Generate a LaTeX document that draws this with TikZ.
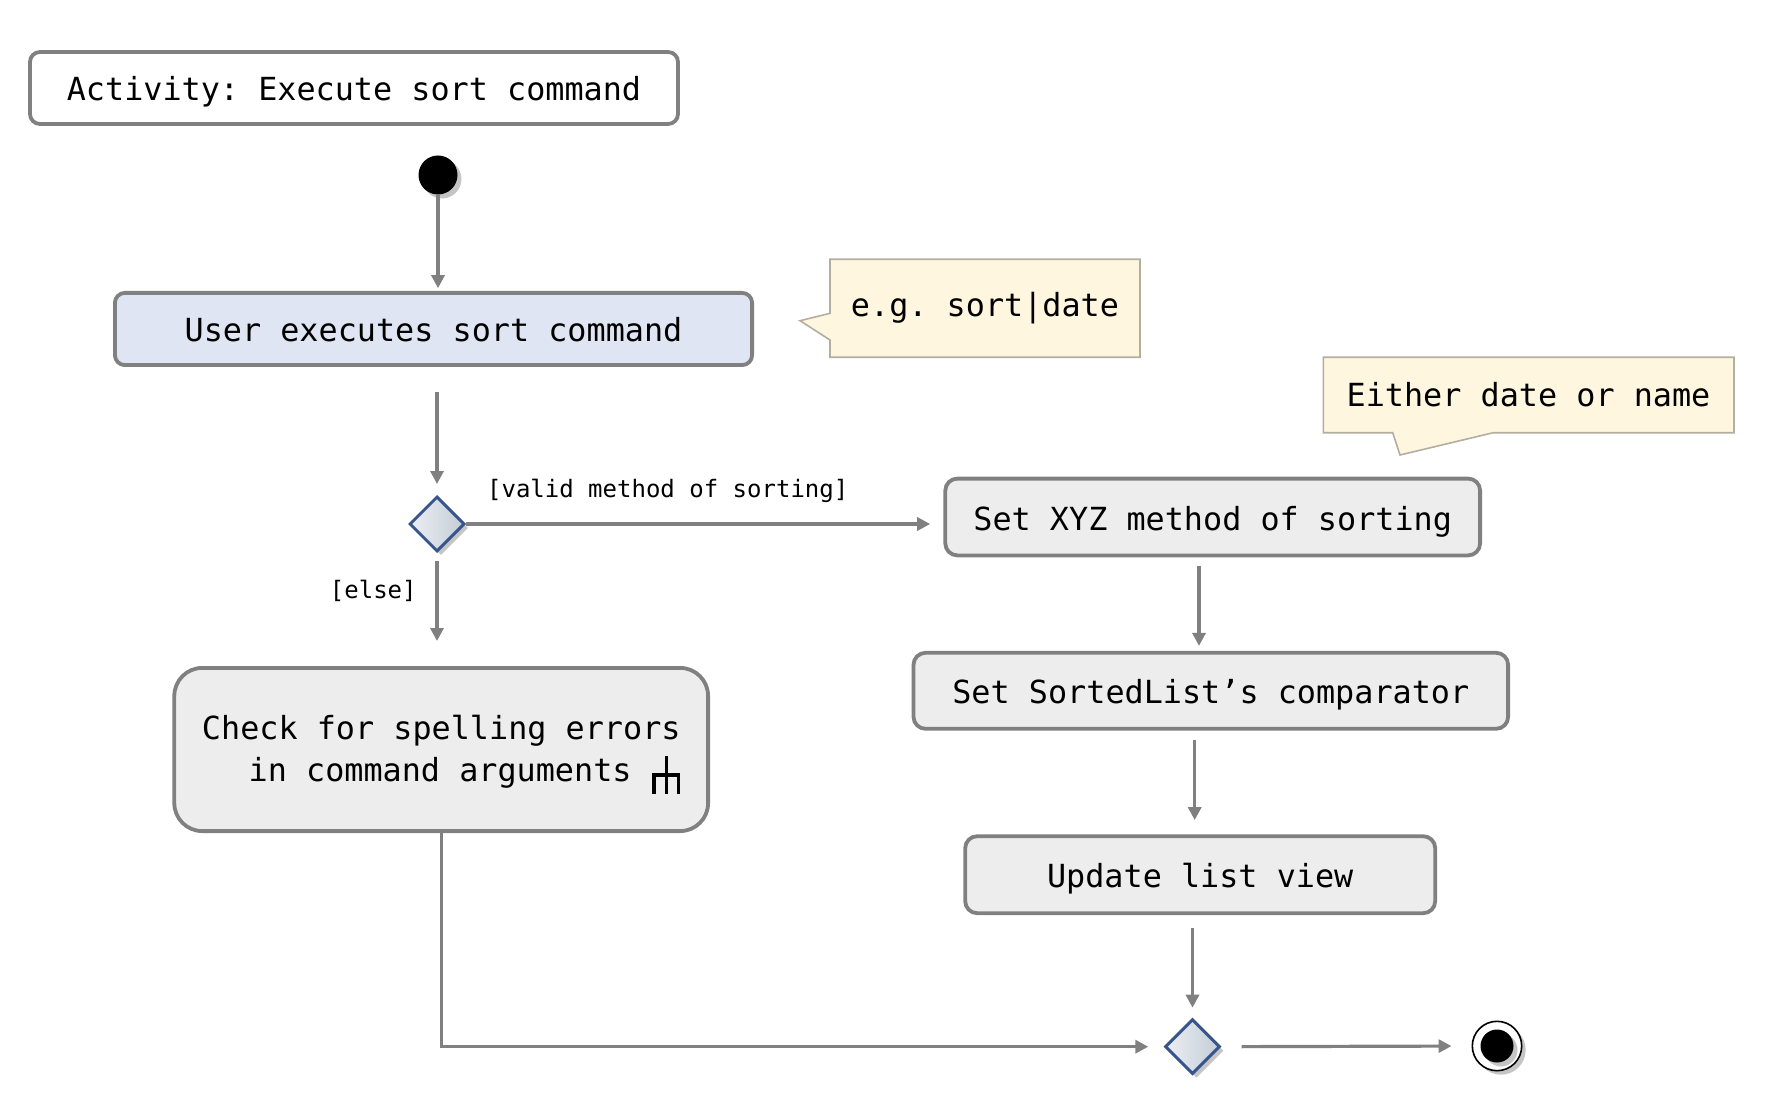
\documentclass[tikz,border=0pt]{standalone}
\usepackage{fontspec}
\setmainfont{DejaVu Sans Mono}
\usetikzlibrary{shapes.geometric,arrows.meta,shadows,calc}
\frenchspacing
\definecolor{boxborder}{RGB}{128,128,128}
\definecolor{linecol}{RGB}{128,128,128}
\definecolor{userfill}{RGB}{223,229,242}
\definecolor{actfill}{RGB}{237,237,237}
\definecolor{notefill}{RGB}{254,246,222}
\definecolor{noteborder}{RGB}{178,174,160}
\definecolor{diaborder}{RGB}{55,85,140}
\definecolor{dialight}{RGB}{236,239,243}
\definecolor{diadark}{RGB}{196,204,214}
\begin{document}
\frenchspacing
\begin{tikzpicture}[x=0.5pt,y=-0.5pt,
  txt/.style={font=\fontsize{15.9pt}{20.8pt}\selectfont},
  actbox/.style={draw=boxborder, line width=1.9pt, rounded corners=6pt, fill=actfill,
    inner sep=0pt, text height=15.5pt, text depth=2.5pt, txt},
  notebox/.style={draw=noteborder, line width=0.8pt, fill=notefill},
  notetext/.style={txt, inner sep=0pt},
  conn/.style={draw=linecol, line width=1.6pt, -{Triangle[length=6.5pt,width=6.5pt]}},
  decision/.style={diamond, draw=diaborder, line width=1.5pt, inner sep=0pt,
    minimum width=27.5pt, minimum height=27.5pt, left color=dialight, right color=diadark,
    drop shadow={shadow xshift=2pt, shadow yshift=-2pt, fill=black!45, opacity=0.5}},
  guard/.style={font=\fontsize{12pt}{14pt}\selectfont, inner sep=0pt},
  plain/.style={txt, inner sep=0pt},
  shad/.style={drop shadow={shadow xshift=2pt, shadow yshift=-2pt, fill=black!45, opacity=0.5}},
  rake/.style={line width=1.6pt, line cap=rect}
]
\useasboundingbox (0,0) rectangle (1782,1096);

% title
\node[actbox, fill=white, rounded corners=5pt, minimum width=324pt, minimum height=36pt] (title) at (354,88) {Activity: Execute sort command};

% start
\node[circle, fill=black, minimum size=19.5pt, inner sep=0pt, shad] (init) at (438,175) {};

% user box
\node[actbox, fill=userfill, rounded corners=5pt, minimum width=318.6pt, minimum height=36.1pt] (user) at (433.5,329) {User executes sort command};

% notes
\path[notebox] (830,259.3) -- (1140,259.3) -- (1140,357.3) -- (830,357.3) -- (830,340) -- (800,320.7) -- (830,313.3) -- cycle;
\node[notetext, anchor=base] (n1) at (985,317) {e.g. sort|date};
\path[notebox] (1323.3,357.3) -- (1734,357.3) -- (1734,432.7) -- (1493.3,432.7) -- (1400,455) -- (1392.7,432.7) -- (1323.3,432.7) -- cycle;
\node[notetext, anchor=base] (n2) at (1528.5,407) {Either date or name};

% decision 1
\node[decision] (d1) at (437,524) {};

% right column
\node[actbox, minimum width=267.4pt, minimum height=38.4pt] (xyz) at (1212.7,517) {Set XYZ method of sorting};
\node[actbox, minimum width=297.3pt, minimum height=38pt] (sl) at (1210.8,690.8) {Set SortedList’s comparator};
\node[actbox, minimum width=235pt, minimum height=38.5pt] (upd) at (1200.2,874.7) {Update list view};

% check box
\node[actbox, rounded corners=14pt, minimum width=266.9pt, minimum height=81.6pt] (check) at (441.2,749.5) {};
\node[plain, anchor=base east] (c1) at ($(check.center)+(239.8,-10.2)$) {Check for spelling errors};
\node[plain, anchor=base east] (c2) at ($(check.center)+(190.8,31.5)$) {in command arguments};
\draw[rake] ($(check.center)+(225.5,8.2)$) -- ($(check.center)+(225.5,42.5)$);
\draw[rake] ($(check.center)+(212.8,42.5)$) -- ($(check.center)+(212.8,25.5)$) -- ($(check.center)+(237.1,25.5)$) -- ($(check.center)+(237.1,42.5)$);

% decision 2 and final
\node[decision] (d2) at (1192.5,1046.7) {};
\node[circle, draw=black, line width=0.8pt, fill=white, minimum size=24.7pt, inner sep=0pt, shad] (final) at (1497,1046) {};
\node[circle, fill=black, minimum size=16.5pt, inner sep=0pt, shad] (finalin) at (final.center) {};

% guards
\node[guard, anchor=base west] (g1) at ($(d1.center)+(49.7,-27)$) {[valid method of sorting]};
\node[guard, anchor=base east] (g2) at ($(d1.center)+(-20,74)$) {[else]};

% connectors
\coordinate (cx1) at (1199,0);
\coordinate (cx2) at (1194.7,0);
\draw[conn, shorten >=1.4pt] (init) -- (user.north -| init);
\draw[conn, shorten <=12.5pt, shorten >=5.5pt] (user.south -| d1) -- (d1.north);
\draw[conn, shorten >=6.6pt] (d1.east) -- (d1.east -| xyz.west);
\draw[conn, shorten <=4pt, shorten >=12.5pt] (d1.south) -- (d1.south |- check.north);
\draw[conn, shorten <=4.3pt, shorten >=2.5pt] (xyz.south -| cx1) -- (sl.north -| cx1);
\draw[conn, shorten <=4.6pt, shorten >=7.1pt] (sl.south -| cx2) -- (upd.north -| cx2);
\draw[conn, shorten <=6.6pt, shorten >=5pt] (upd.south -| d2) -- (d2.north);
\draw[conn, shorten >=7.6pt] (check.south) |- (d2.west);
\draw[conn, shorten <=10pt, shorten >=10pt] (d2.east) -- (final.west);
\end{tikzpicture}
\end{document}
